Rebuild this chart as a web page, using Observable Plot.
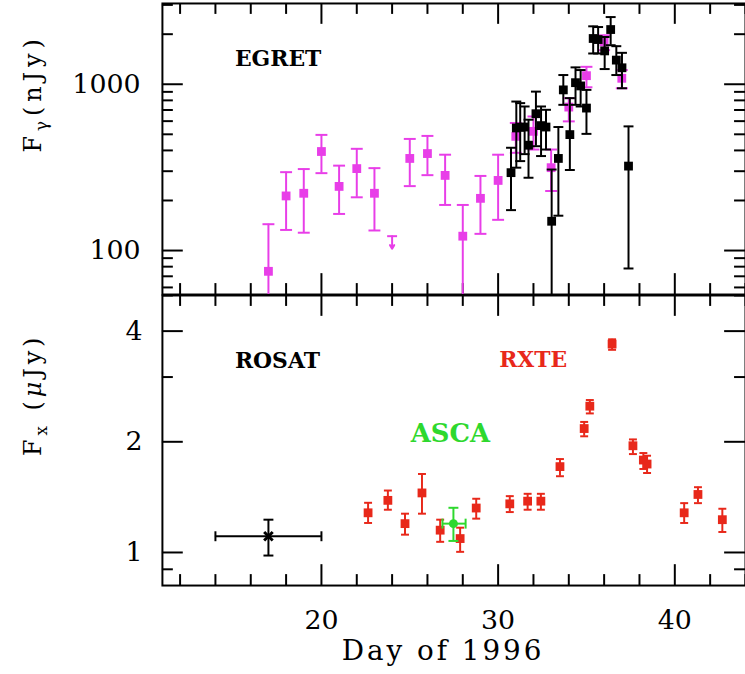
<!DOCTYPE html>
<html><head><meta charset="utf-8">
<script src="https://cdn.jsdelivr.net/npm/d3@7"></script>
<script src="https://cdn.jsdelivr.net/npm/@observablehq/plot@0.6"></script>
<style>
html,body{margin:0;padding:0;background:#fff;overflow:hidden;width:745px;height:674px}
#top svg,#bot svg{display:block;overflow:visible}
#bot{margin-top:-2px}
</style></head><body><div id="top"></div><div id="bot"></div>
<script>
// ---------- EGRET (gamma-ray), magenta ----------
const egretDay  = [17, 18, 19, 20, 21, 22, 23, 25, 26, 27, 28, 29, 30, 31, 32, 33, 34, 35, 36, 37];
const egretFlux = [75, 213, 221, 394, 243, 311, 221, 358, 383, 283, 122, 206, 264, 486, 521, 315, 729, 1126, 1796, 1086];
const egretLo   = [40, 133, 128, 292, 166, 209, 132, 244, 284, 188, 40, 126, 153, 387, 405, 228, 598, 959, 1603, 946];
const egretHi   = [144, 296, 309, 496, 324, 409, 313, 469, 489, 377, 188, 281, 377, 585, 640, 405, 825, 1273, 1970, 1217];
// upper limit
const egretLimitDay = [24];
const egretLimitFlux = [122];
// ---------- EGRET high-resolution (black) ----------
const blackDay  = [30.73, 31.03, 31.25, 31.50, 31.72, 32.14, 32.43, 32.71, 33.03, 33.41, 33.69, 34.06, 34.38, 34.67, 35.00, 35.38, 35.66, 36.03, 36.37, 36.69, 37.01, 37.38];
const blackFlux = [294, 546, 551, 553, 430, 665, 564, 553, 150, 358, 925, 498, 1022, 977, 719, 1884, 1857, 1587, 2133, 1397, 1256, 322];
const blackLo   = [175, 315, 345, 380, 274, 424, 370, 405, 20, 162, 752, 305, 752, 735, 503, 1531, 1531, 1234, 1717, 1136, 946, 78];
const blackHi   = [415, 787, 770, 735, 612, 903, 735, 702, 307, 553, 1136, 825, 1263, 1217, 925, 2230, 2208, 1924, 2535, 1694, 1545, 558];
// ---------- RXTE (X-ray), red ----------
const rxteDay  = [22.64, 23.76, 24.73, 25.69, 26.72, 27.85, 28.76, 30.66, 31.67, 32.42, 33.50, 34.87, 35.19, 36.45, 37.63, 38.22, 38.43, 40.53, 41.31, 42.69];
const rxteFlux = [1.282, 1.386, 1.198, 1.452, 1.150, 1.091, 1.321, 1.356, 1.379, 1.379, 1.712, 2.173, 2.50, 3.688, 1.951, 1.784, 1.740, 1.282, 1.438, 1.228];
const rxteLo   = [1.203, 1.307, 1.118, 1.275, 1.069, 1.004, 1.236, 1.288, 1.307, 1.307, 1.612, 2.07, 2.389, 3.558, 1.852, 1.687, 1.645, 1.203, 1.362, 1.137];
const rxteHi   = [1.365, 1.474, 1.275, 1.635, 1.228, 1.168, 1.40, 1.423, 1.444, 1.444, 1.795, 2.265, 2.598, 3.80, 2.03, 1.864, 1.833, 1.362, 1.505, 1.315];
// ---------- ROSAT (black) and ASCA (green) ----------
const rosatDay = [17.0], rosatDayLo = [14.0], rosatDayHi = [20.0];
const rosatFlux = [1.107], rosatLo = [0.981], rosatHi = [1.228];
const ascaDay = [27.47], ascaDayLo = [26.85], ascaDayHi = [28.16];
const ascaFlux = [1.198], ascaLo = [1.075], ascaHi = [1.323];
// ---------- ticks / labels ----------
const xMinorTicks = [12, 14, 16, 18, 22, 24, 26, 28, 32, 34, 36, 38, 42, 44];
const xMajorTicks = [20, 30, 40];
const gammaMinorTicks = [60, 70, 80, 90, 200, 300, 400, 500, 600, 700, 800, 900, 2000, 3000];
const gammaMajorTicks = [100, 1000];
const xrayMinorTicks = [0.9, 3, 5];
const xrayMajorTicks = [1, 2, 4];
const xDomain = [11, 44];
const gammaDomain = [54.4, 3060];
const xrayDomain = [0.813, 5.0];

const MAGENTA = "#e83ee8", RED = "#e8281a", GREEN = "#2ed82e", BLACK = "#000";
const SERIF = "DejaVu Serif, Liberation Serif, serif";

const rows = (day, f, lo, hi) => day.map((d, i) => ({day: d, flux: f[i], lo: lo[i], hi: hi[i]}));
const egret = rows(egretDay, egretFlux, egretLo, egretHi);
const black = rows(blackDay, blackFlux, blackLo, blackHi);
const rxte = rows(rxteDay, rxteFlux, rxteLo, rxteHi);
const limit = egretLimitDay.map((d, i) => ({day: d, flux: egretLimitFlux[i]}));
const rosat = rosatDay.map((d, i) => ({day: d, d1: rosatDayLo[i], d2: rosatDayHi[i], flux: rosatFlux[i], lo: rosatLo[i], hi: rosatHi[i]}));
const asca = ascaDay.map((d, i) => ({day: d, d1: ascaDayLo[i], d2: ascaDayHi[i], flux: ascaFlux[i], lo: ascaLo[i], hi: ascaHi[i]}));

const hcap = {draw(ctx, size) { const r = Math.sqrt(size / Math.PI); ctx.moveTo(-r, 0); ctx.lineTo(r, 0); }};
const vcap = {draw(ctx, size) { const r = Math.sqrt(size / Math.PI); ctx.moveTo(0, -r); ctx.lineTo(0, r); }};

function errY(data, color, capR, sw) {
  return [
    Plot.ruleX(data, {x: "day", y1: "lo", y2: "hi", stroke: color, strokeWidth: sw, clip: true}),
    Plot.dot(data, {x: "day", y: "hi", symbol: hcap, r: capR, stroke: color, fill: "none", strokeWidth: sw, clip: true}),
    Plot.dot(data, {x: "day", y: "lo", symbol: hcap, r: capR, stroke: color, fill: "none", strokeWidth: sw, clip: true})
  ];
}
function errX(data, color, capR, sw) {
  return [
    Plot.ruleY(data, {y: "flux", x1: "d1", x2: "d2", stroke: color, strokeWidth: sw}),
    Plot.dot(data, {x: "d1", y: "flux", symbol: vcap, r: capR, stroke: color, fill: "none", strokeWidth: sw}),
    Plot.dot(data, {x: "d2", y: "flux", symbol: vcap, r: capR, stroke: color, fill: "none", strokeWidth: sw})
  ];
}
function frameTicks(frameW, frameH, yMinor, yMajor) {
  const m = [];
  for (const [vals, len] of [[xMinorTicks, 11], [xMajorTicks, 21]]) {
    m.push(Plot.tickX(vals, {x: d => d, insetTop: frameH - len, strokeWidth: 2}));
    m.push(Plot.tickX(vals, {x: d => d, insetBottom: frameH - len, strokeWidth: 2}));
  }
  for (const [vals, len] of [[yMinor, 11], [yMajor, 21]]) {
    m.push(Plot.tickY(vals, {y: d => d, insetRight: frameW - len, strokeWidth: 2}));
    m.push(Plot.tickY(vals, {y: d => d, insetLeft: frameW - len, strokeWidth: 2}));
  }
  return m;
}
const label = (s, o) => Plot.text([s], {text: d => d, lineAnchor: "middle", fill: BLACK, fontFamily: SERIF, ...o});

const W = 750, ML = 163;
// ---------- top panel ----------
const topH = 298, topMT = 3, topMB = 2;
const topPlot = Plot.plot({
  width: W, height: topH, marginLeft: ML, marginRight: 0, marginTop: topMT, marginBottom: topMB,
  style: {fontFamily: SERIF, fontSize: "27px", background: "white", color: "black"},
  x: {domain: xDomain, axis: null},
  y: {type: "log", domain: gammaDomain, axis: null},
  marks: [
    Plot.frame({stroke: BLACK, strokeWidth: 2}),
    ...frameTicks(W - ML, topH - topMT - topMB, gammaMinorTicks, gammaMajorTicks),
    Plot.axisY({ticks: gammaMajorTicks, tickSize: 0, tickPadding: 22, tickFormat: d => String(d), label: null, fontSize: 27}),
    ...errY(egret, MAGENTA, 6, 2),
    Plot.dot(limit, {x: "day", y: "flux", symbol: hcap, r: 5, stroke: MAGENTA, strokeWidth: 2}),
    Plot.arrow(limit, {x: "day", y1: "flux", y2: d => d.flux * 0.84, stroke: MAGENTA, strokeWidth: 2, headLength: 8}),
    Plot.dot(egret, {x: "day", y: "flux", symbol: "square", r: 5, fill: MAGENTA, clip: true}),
    ...errY(black, BLACK, 5, 2),
    Plot.dot(black, {x: "day", y: "flux", symbol: "square", r: 5, fill: BLACK, clip: true}),
    label("EGRET", {frameAnchor: "top-left", dx: 73, dy: 56, textAnchor: "start", fontWeight: "bold", fontSize: 22}),
    label("Fγ(nJy)", {frameAnchor: "left", dx: -130, dy: -56, rotate: -90, textAnchor: "middle", fontSize: 24})
  ]
});
document.getElementById("top").appendChild(topPlot);

// ---------- bottom panel ----------
const botH = 378, botMT = 1, botMB = 85;
const botPlot = Plot.plot({
  width: W, height: botH, marginLeft: ML, marginRight: 0, marginTop: botMT, marginBottom: botMB,
  style: {fontFamily: SERIF, fontSize: "27px", background: "transparent", color: "black"},
  x: {domain: xDomain},
  y: {type: "log", domain: xrayDomain},
  marks: [
    Plot.frame({stroke: BLACK, strokeWidth: 2}),
    ...frameTicks(W - ML, botH - botMT - botMB, xrayMinorTicks, xrayMajorTicks),
    Plot.axisY({ticks: xrayMajorTicks, tickSize: 0, tickPadding: 20, tickFormat: d => String(d), label: null, fontSize: 27}),
    Plot.axisX({ticks: xMajorTicks, tickSize: 0, tickPadding: 25, tickFormat: d => String(d), label: null, fontSize: 27}),
    ...errX(rosat, BLACK, 5, 2),
    ...errY(rosat, BLACK, 5, 2),
    Plot.dot(rosat, {x: "day", y: "flux", symbol: "times", r: 4, stroke: BLACK, strokeWidth: 3}),
    ...errY(rxte, RED, 4, 2),
    Plot.dot(rxte, {x: "day", y: "flux", symbol: "square", r: 5, fill: RED}),
    ...errX(asca, GREEN, 5, 2),
    ...errY(asca, GREEN, 5, 2),
    Plot.dot(asca, {x: "day", y: "flux", symbol: "circle", r: 4.5, fill: GREEN}),
    label("ROSAT", {frameAnchor: "top-left", dx: 73, dy: 66, textAnchor: "start", fontWeight: "bold", fontSize: 22}),
    label("RXTE", {frameAnchor: "top-left", dx: 339, dy: 65, textAnchor: "start", fontWeight: "bold", fontSize: 22, fill: RED}),
    label("ASCA", {frameAnchor: "top-left", dx: 250, dy: 139, textAnchor: "start", fontWeight: "bold", fontSize: 26, fill: GREEN}),
    label("Fx (μJy)", {frameAnchor: "left", dx: -130, dy: -46, rotate: -90, textAnchor: "middle", fontSize: 24}),
    label("Day of 1996", {frameAnchor: "bottom", dx: -11, dy: 66, textAnchor: "middle", fontSize: 28})
  ]
});
document.getElementById("bot").appendChild(botPlot);

// ---------- typographic touches (subscripts, spacing) ----------
function findText(svg, s) {
  return d3.select(svg).selectAll("text").filter(function () { return this.textContent === s; });
}
function richText(svg, s, parts, spacing) {
  findText(svg, s).each(function () {
    const t = d3.select(this);
    t.text(null).attr("letter-spacing", spacing);
    let shifted = false;
    for (const p of parts) {
      const ts = t.append("tspan").text(p.t);
      if (p.sub) { ts.attr("font-size", "70%").attr("dy", "0.35em"); shifted = true; }
      else if (shifted) { ts.attr("dy", "-0.245em"); shifted = false; }
      if (p.italic) ts.attr("font-style", "italic");
    }
  });
}
richText(topPlot, "Fγ(nJy)", [{t: "F"}, {t: "γ", sub: true}, {t: "(nJy)"}], 5);
richText(botPlot, "Fx (μJy)", [{t: "F"}, {t: "x", sub: true}, {t: " ("}, {t: "μ", italic: true}, {t: "Jy)"}], 4);
findText(botPlot, "Day of 1996").attr("letter-spacing", 3);
</script></body></html>
